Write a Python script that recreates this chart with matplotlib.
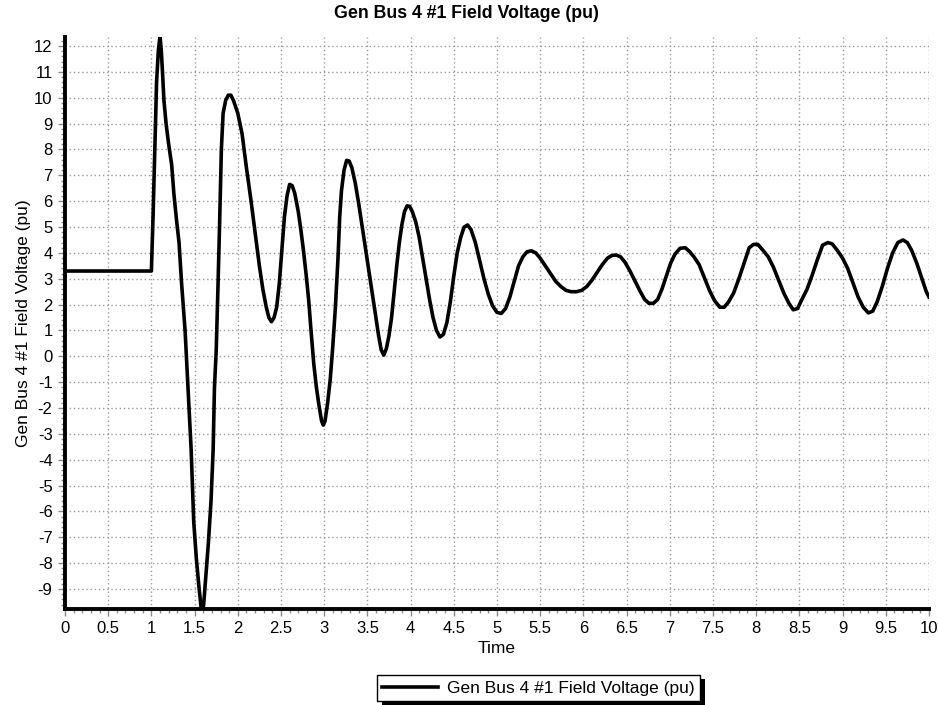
import numpy as np
import matplotlib
matplotlib.use("Agg")
from matplotlib import pyplot as plt
from matplotlib.ticker import MultipleLocator, AutoMinorLocator
from matplotlib.patches import Rectangle

plt.rcParams['font.family'] = ['Liberation Sans', 'DejaVu Sans']
plt.rcParams['axes.unicode_minus'] = False

title = "Gen Bus 4 #1 Field Voltage (pu)"

# values
time = [0.0, 1.0, 1.0, 1.02, 1.04, 1.06, 1.08, 1.10,
        1.115, 1.13, 1.145, 1.17, 1.20, 1.235, 1.26, 1.29, 1.32, 1.35, 1.39,
        1.42, 1.46, 1.49, 1.52, 1.55, 1.575, 1.59, 1.605, 1.63, 1.66, 1.69,
        1.715, 1.73, 1.75, 1.77, 1.79, 1.81, 1.83, 1.86, 1.89, 1.92,
        1.95, 2.00, 2.05, 2.10, 2.15, 2.20, 2.25, 2.29, 2.33, 2.36, 2.39,
        2.42, 2.45, 2.48, 2.51, 2.54, 2.57, 2.60, 2.63, 2.66, 2.70, 2.73,
        2.76, 2.79, 2.82, 2.85, 2.88, 2.91, 2.94, 2.97, 2.99, 3.01, 3.04,
        3.07, 3.10, 3.13, 3.16, 3.18, 3.20, 3.23, 3.26, 3.29, 3.32, 3.36,
        3.40, 3.45, 3.50, 3.55, 3.59, 3.63, 3.66, 3.69, 3.72, 3.75, 3.78,
        3.81, 3.84, 3.87, 3.90, 3.93, 3.96, 3.99, 4.02, 4.06, 4.10, 4.14,
        4.18, 4.22, 4.26, 4.30, 4.34, 4.38, 4.42, 4.46, 4.50, 4.54, 4.58,
        4.62, 4.66, 4.70, 4.75, 4.80, 4.85, 4.90, 4.95, 5.00, 5.05, 5.10,
        5.15, 5.20, 5.25, 5.30, 5.35, 5.40, 5.45, 5.50, 5.56, 5.62, 5.68,
        5.74, 5.80, 5.86, 5.92, 5.98, 6.04, 6.10, 6.16, 6.22, 6.28, 6.33,
        6.38, 6.43, 6.48, 6.54, 6.60, 6.66, 6.71, 6.76, 6.81, 6.86, 6.91,
        6.96, 7.01, 7.06, 7.12, 7.18, 7.23, 7.28, 7.34, 7.40, 7.46, 7.52,
        7.58, 7.63, 7.68, 7.74, 7.80, 7.86, 7.92, 7.97, 8.02, 8.08, 8.14,
        8.20, 8.26, 8.32, 8.38, 8.43, 8.48, 8.53, 8.59, 8.65, 8.71, 8.77,
        8.83, 8.88, 8.94, 9.00, 9.06, 9.12, 9.18, 9.24, 9.30, 9.35, 9.40,
        9.46, 9.52, 9.58, 9.64, 9.70, 9.75, 9.80, 9.86, 9.92, 9.97, 10.0]
voltage = [3.3, 3.3, 3.3, 5.5, 8.0, 10.6, 11.8, 12.4,
           11.8, 10.9, 9.9, 9.0, 8.2, 7.4, 6.3, 5.3, 4.4, 2.8, 1.0,
           -1.0, -3.6, -6.4, -7.8, -8.9, -9.7, -9.9, -9.6, -8.5, -7.2, -5.6,
           -3.6, -1.2, 0.2, 2.6, 5.2, 8.0, 9.4, 9.9, 10.1, 10.1,
           9.9, 9.4, 8.6, 7.3, 6.1, 4.8, 3.5, 2.6, 1.9, 1.5, 1.34,
           1.5, 1.9, 2.8, 4.1, 5.4, 6.2, 6.65, 6.6, 6.3, 5.6, 4.9,
           4.1, 3.2, 2.2, 0.9, -0.3, -1.2, -1.9, -2.5, -2.66, -2.5, -1.8,
           -0.9, 0.4, 1.9, 3.8, 5.4, 6.4, 7.2, 7.58, 7.55, 7.3, 6.7,
           5.9, 4.8, 3.7, 2.6, 1.7, 0.8, 0.25, 0.05, 0.3, 0.8, 1.5,
           2.5, 3.5, 4.4, 5.1, 5.6, 5.82, 5.8, 5.6, 5.2, 4.6, 3.8,
           3.0, 2.2, 1.5, 1.0, 0.75, 0.85, 1.3, 2.1, 3.1, 4.0, 4.6,
           5.0, 5.08, 4.9, 4.4, 3.7, 3.0, 2.4, 1.95, 1.7, 1.66, 1.85,
           2.3, 2.9, 3.5, 3.85, 4.05, 4.08, 4.0, 3.8, 3.5, 3.2, 2.9,
           2.7, 2.55, 2.5, 2.5, 2.55, 2.7, 2.95, 3.25, 3.55, 3.8, 3.9,
           3.92, 3.85, 3.65, 3.3, 2.9, 2.5, 2.2, 2.05, 2.05, 2.2, 2.6,
           3.1, 3.6, 3.95, 4.18, 4.2, 4.05, 3.85, 3.55, 3.05, 2.55, 2.15,
           1.9, 1.9, 2.1, 2.45, 3.0, 3.6, 4.2, 4.33, 4.33, 4.1, 3.85,
           3.45, 2.95, 2.45, 2.05, 1.8, 1.85, 2.2, 2.6, 3.15, 3.75, 4.3,
           4.4, 4.35, 4.1, 3.8, 3.4, 2.85, 2.3, 1.9, 1.68, 1.75, 2.1,
           2.7, 3.4, 4.0, 4.4, 4.5, 4.4, 4.1, 3.6, 3.0, 2.5, 2.3]

fig = plt.figure(figsize=(9.38, 7.05), dpi=100)
ax = fig.add_axes([0.0693, 0.1362, 0.921, 0.8113])

ax.plot(time, voltage, color='black', lw=2.6, label=title, zorder=3,
        solid_joinstyle='round')

ax.set_xlim(0, 10)
ax.set_ylim(-9.77, 12.35)
ax.xaxis.set_major_locator(MultipleLocator(0.5))
ax.xaxis.set_minor_locator(AutoMinorLocator(5))
ax.yaxis.set_major_locator(MultipleLocator(1))
ax.yaxis.set_minor_locator(AutoMinorLocator(5))
ax.set_xticklabels([f"{v:g}" for v in ax.get_xticks()])

ax.grid(True, which='major', color='#9a9a9a', linestyle=(0, (1, 2)), lw=1.0)
for side in ['top', 'right']:
    ax.spines[side].set_visible(False)
for side in ['left', 'bottom']:
    ax.spines[side].set_linewidth(2.8)
ax.tick_params(which='major', length=5, width=1, color='#8a8a8a', labelsize=12, pad=4)
ax.tick_params(which='minor', length=3, width=1, color='#8a8a8a')

ax.set_xlabel("Time", fontsize=12.5, labelpad=3)
ax.set_ylabel(title, fontsize=12.5, labelpad=2)
fig.suptitle(title, fontsize=12.8, fontweight='bold', x=0.497, y=0.993, va='top')

leg = fig.legend(loc='center', bbox_to_anchor=(0.574, 0.024), fontsize=12.5,
                 frameon=True, fancybox=False, edgecolor='black', framealpha=1,
                 borderpad=0.3, handlelength=3.2, handletextpad=0.5)
leg.get_frame().set_linewidth(1.0)

fig.canvas.draw()
bb = leg.get_window_extent().transformed(fig.transFigure.inverted())
dx = 5 / 938
dy = 4 / 705
shadow = Rectangle((bb.x0 + dx, bb.y0 - dy), bb.width, bb.height,
                   transform=fig.transFigure, facecolor='black', edgecolor='none',
                   zorder=leg.get_zorder() - 1)
fig.patches.append(shadow)

fig.savefig("out.png", dpi=100)
plt.close(fig)
